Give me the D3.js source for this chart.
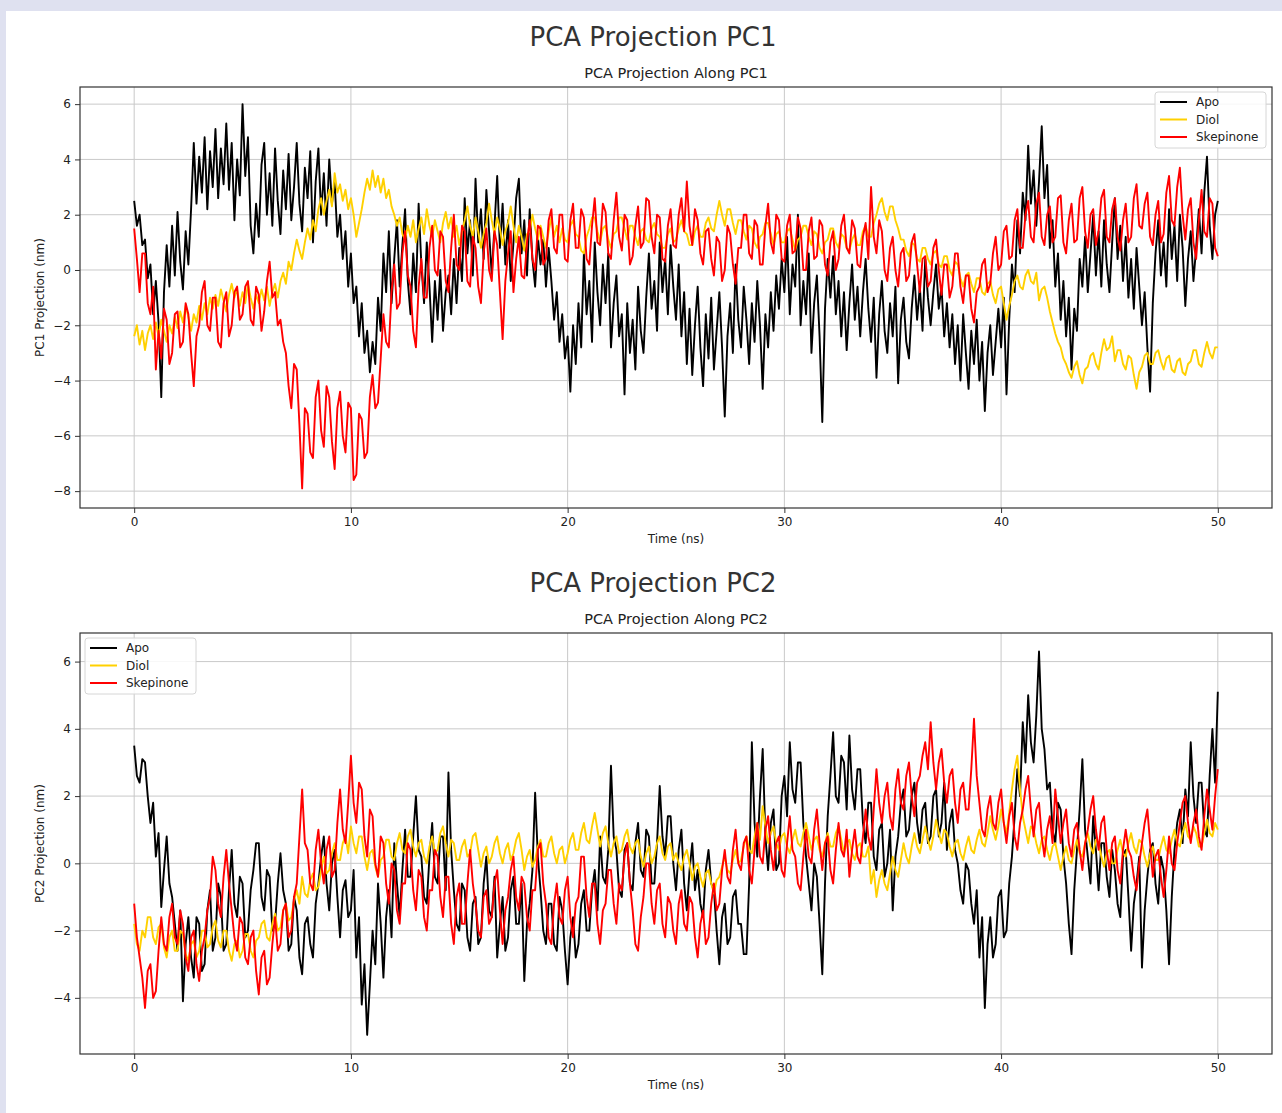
<!DOCTYPE html>
<html>
<head>
<meta charset="utf-8">
<script src="https://cdn.jsdelivr.net/npm/d3@7"></script>
<style>
  body { margin: 0; background: #dfe1f0; }
  svg { display: block; }
  text { font-family: "DejaVu Sans", sans-serif; fill: #222; }
</style>
</head>
<body>
<div id="chart"></div>
<script>
// every trace covers 0..50 ns, stored every 0.125 ns
let timeSpan = 50;

let seriesNames = ["Apo", "Diol", "Skepinone"];
let seriesColors = ["#000000", "#ffd000", "#ff0000"];

let xTicks = [0, 10, 20, 30, 40, 50];
let pc1Ticks = [-8, -6, -4, -2, 0, 2, 4, 6];
let pc2Ticks = [-4, -2, 0, 2, 4, 6];

// ---- PC1 ----
let pc1Apo = [
 2.5, 1.6, 2.0, 0.9, 1.1, -0.3, 0.2, -1.6, -0.4, -1.9, -4.6, -0.8, 0.9, -0.6, 1.6, -0.2, 2.1, 0.3, -0.7, 1.4, 0.2, 2.2, 4.6, 2.4, 4.1, 2.8, 4.8, 2.2, 4.3, 3.0, 5.1, 2.6, 4.4, 3.1, 5.3, 2.9, 4.6, 1.8, 4.0, 2.7,
 6.0, 3.4, 4.8, 1.6, 0.6, 2.4, 1.2, 3.8, 4.6, 2.0, 3.5, 1.6, 4.4, 2.5, 1.3, 3.6, 2.2, 4.2, 1.8, 3.0, 4.6, 2.4, 1.4, 3.7, 2.6, 4.3, 1.0, 3.2, 4.4, 2.0, 3.5, 1.6, 4.0, 2.4, 3.2, 1.2, 2.0, 0.4, 1.4, -0.6,
 0.6, -1.2, -0.6, -2.4, -1.2, -3.0, -2.2, -3.7, -2.6, -3.4, -1.0, -2.2, 0.6, -0.8, 1.4, -1.2, 0.4, 1.8, -0.6, 0.9, 2.2, -0.4, -1.6, 0.6, -0.8, 2.4, 0.2, -1.2, 1.0, -0.6, -2.6, -0.4, -1.8, 0.0, -2.2, -0.8, -0.2, -1.6, 0.4, -1.2,
 0.8, -0.4, 2.6, 0.6, 1.8, -0.2, 3.3, 1.0, 2.2, 0.4, 2.9, 1.4, -0.2, 1.6, 3.4, 0.8, 2.4, 0.2, 1.8, -0.4, 1.0, 2.6, 3.3, 0.6, 1.8, -0.2, 2.2, 0.4, -0.6, 1.2, 0.2, 1.1, -0.6, 0.8, -0.4, -1.8, -0.8, -2.6, -1.6, -3.2,
 -2.4, -4.4, -2.0, -3.4, -1.2, -2.8, 0.6, -1.6, -0.4, -2.6, 1.0, -0.8, -2.0, 0.2, -1.2, 0.6, -2.8, -1.2, -0.2, -2.4, -1.6, -4.5, -1.2, -3.0, -1.8, -3.6, -0.6, -2.2, -3.0, -1.0, 0.6, -1.4, -0.4, -2.2, 1.0, -0.8, 0.4, -1.6, 0.9, -0.6,
 -1.8, 0.2, -2.4, -0.8, -3.4, -1.4, -3.8, -2.0, -0.6, -2.8, -4.2, -1.6, -3.2, -1.0, -3.6, -2.2, -0.8, -2.8, -5.3, -2.4, -1.2, -3.0, 0.2, -1.8, -2.8, -0.6, -1.8, -3.4, -1.2, -2.6, -0.4, -2.0, -4.3, -1.6, -2.8, -0.8, -2.2, -0.2, -1.4, 0.4,
 -0.8, 1.2, -1.6, 0.2, -0.6, 2.0, -2.0, -0.4, -1.6, 0.6, -3.0, -1.2, -0.2, -2.4, -5.5, -1.4, 0.4, -1.0, 0.5, -1.6, -0.4, -2.4, -0.8, -2.9, -1.2, 0.2, -1.8, -0.6, -2.4, -0.8, 0.4, -1.4, -2.6, -1.0, -3.9, -1.6, -0.4, -2.2, -3.0, -1.2,
 -2.4, -0.6, -4.1, -1.8, -1.0, -2.6, -3.2, -1.4, -0.2, -1.8, -0.6, -2.2, 0.4, -1.0, -2.0, -0.8, 0.2, -1.4, -0.6, -2.4, -1.2, -2.8, -1.6, -3.4, -2.0, -4.0, -1.6, -3.0, -4.3, -2.2, -3.4, -1.8, -4.0, -2.6, -5.1, -3.0, -2.0, -3.8, -2.6, -1.4,
 -2.8, -1.0, -4.5, -1.8, 0.2, -0.8, 1.8, 0.6, 2.8, 1.8, 4.5, 2.4, 3.6, 1.6, 3.2, 5.2, 2.6, 3.8, 0.8, 1.8, -0.6, 0.6, -1.8, -0.4, -2.4, -1.0, -3.6, -1.4, -2.2, 0.4, -0.6, 1.2, -0.8, 0.6, 2.0, -0.2, 1.4, -0.6, 1.8, 0.2,
 -0.8, 1.0, 2.6, 0.4, 1.6, -0.4, 1.2, -1.0, 0.4, -1.4, 0.8, -0.6, -2.0, -0.8, -2.8, -4.4, -1.2, 0.6, 1.8, -0.2, 1.0, -0.6, 2.2, 0.4, 1.6, -0.4, 2.0, 0.8, -1.3, 0.4, 1.4, -0.4, 0.8, 2.2, 0.6, 2.8, 4.1, 1.6, 0.4, 2.0,
 2.5
];
let pc1Diol = [
 -2.4, -2.0, -2.7, -2.2, -2.9, -2.3, -2.0, -2.5, -1.9, -2.4, -1.8, -2.2, -2.6, -2.0, -2.3, -1.7, -2.1, -1.5, -1.9, -1.3, -1.7, -2.2, -1.6, -1.9, -1.3, -1.8, -1.2, -1.6, -1.0, -1.4, -0.9, -1.3, -0.7, -1.1, -1.5, -0.9, -0.5, -1.0, -0.7, -1.3,
 -0.8, -1.2, -0.5, -1.0, -1.4, -0.9, -1.2, -0.7, -1.1, -0.6, -1.3, -0.8, -0.5, -1.0, -0.4, -0.1, -0.5, 0.3, 0.0, 0.6, 1.1, 0.7, 0.4, 1.0, 1.5, 1.1, 1.8, 1.4, 2.2, 2.6, 2.0, 2.5, 2.9, 2.3, 3.5, 2.8, 3.1, 2.5, 2.9, 2.2,
 2.6, 2.0, 1.2, 1.7, 2.2, 2.8, 3.3, 2.9, 3.6, 3.0, 3.4, 2.8, 3.3, 2.6, 2.9, 2.3, 2.0, 1.6, 1.9, 1.3, 1.1, 1.6, 1.2, 1.8, 1.0, 1.5, 1.9, 1.3, 2.2, 1.6, 1.2, 1.8, 1.4, 1.0, 1.7, 2.1, 1.5, 1.9, 1.2, 1.6,
 0.9, 1.4, 1.8, 2.3, 1.6, 1.2, 1.9, 1.4, 0.8, 1.3, 1.7, 2.4, 1.8, 1.3, 1.9, 1.5, 0.9, 1.4, 1.7, 2.3, 1.6, 1.0, 1.6, 1.2, 0.7, 1.3, 1.4, 2.0, 1.5, 1.1, 1.6, 1.2, 0.8, 1.4, 1.9, 1.2, 1.6, 1.0, 1.5, 1.1,
 1.0, 1.6, 1.8, 1.3, 1.2, 0.7, 0.6, 1.2, 1.5, 1.9, 1.9, 1.4, 1.0, 1.5, 1.6, 1.1, 0.8, 1.3, 1.4, 1.9, 1.9, 1.5, 1.1, 1.6, 1.6, 1.2, 0.9, 1.4, 1.5, 1.1, 1.0, 1.5, 1.7, 1.3, 1.2, 0.8, 0.8, 1.3, 1.5, 1.0,
 1.1, 1.5, 1.8, 1.4, 1.3, 0.9, 0.9, 1.4, 1.6, 1.2, 1.2, 1.7, 1.9, 1.5, 1.4, 2.0, 2.5, 2.0, 1.6, 2.2, 2.2, 1.7, 1.3, 1.8, 1.8, 1.4, 1.1, 1.6, 1.5, 1.0, 0.8, 1.2, 1.3, 1.7, 1.7, 1.3, 0.9, 1.3, 1.4, 1.0,
 1.0, 1.4, 1.5, 1.1, 0.7, 1.1, 1.2, 1.6, 1.6, 1.2, 0.9, 1.4, 1.3, 0.8, 0.6, 1.0, 1.1, 1.5, 1.5, 1.0, 0.8, 1.3, 1.2, 0.8, 0.7, 1.1, 1.3, 0.9, 0.9, 1.4, 1.6, 1.2, 1.2, 1.7, 2.0, 2.4, 2.6, 2.1, 1.8, 2.3,
 2.3, 1.8, 1.5, 1.1, 1.1, 0.7, 0.5, 1.0, 0.9, 0.4, 0.3, 0.8, 0.8, 0.4, 0.2, 0.6, 0.7, 0.2, 0.1, 0.5, 0.5, 0.0, -0.2, 0.3, 0.2, -0.3, -0.6, -0.2, -0.1, -0.5, -0.8, -0.3, -0.3, -0.8, -0.9, -0.5, -0.4, -0.9, -1.2, -0.7,
 -0.6, -1.2, -1.8, -1.3, -0.9, -0.4, -0.2, -0.6, -0.7, -0.2, 0.0, -0.4, -0.5, -0.1, -1.1, -0.7, -0.6, -1.0, -1.5, -1.9, -2.3, -2.6, -2.8, -3.2, -3.4, -3.7, -3.9, -3.5, -3.3, -3.8, -4.1, -3.6, -3.5, -3.1, -3.0, -3.4, -3.6, -3.0, -2.5, -2.9,
 -2.8, -2.4, -3.3, -2.9, -2.9, -3.4, -3.6, -3.1, -3.2, -3.8, -4.3, -3.7, -3.5, -3.1, -3.0, -3.4, -3.4, -3.0, -2.9, -3.3, -3.6, -3.2, -3.1, -3.6, -3.7, -3.3, -3.2, -3.7, -3.8, -3.4, -3.3, -2.9, -2.9, -3.4, -3.5, -3.0, -2.6, -3.0, -3.2, -2.8,
 -2.8
];
let pc1Skepinone = [
 1.5, 0.4, -0.8, 0.6, 0.6, -1.2, -1.6, -0.6, -3.6, -2.2, -3.2, -1.4, -1.8, -3.4, -3.0, -1.6, -1.5, -2.8, -2.6, -1.2, -1.6, -3.0, -4.2, -2.4, -2.0, -0.8, -0.4, -2.0, -2.2, -1.0, -1.0, -2.6, -2.8, -1.2, -0.8, -2.4, -2.0, -0.8, -0.6, -1.8,
 -1.6, -0.6, -0.4, -1.8, -2.0, -0.6, -0.9, -2.2, -1.5, -0.4, 0.3, -1.0, -0.8, -2.0, -1.8, -2.6, -3.0, -4.2, -5.0, -3.4, -3.6, -5.6, -7.9, -5.0, -5.2, -6.6, -6.8, -4.6, -4.0, -5.8, -6.4, -4.2, -4.6, -6.2, -7.2, -5.0, -4.4, -6.0, -6.6, -4.8,
 -5.0, -7.6, -7.4, -5.2, -5.4, -6.8, -6.6, -4.6, -3.8, -5.0, -4.8, -3.2, -1.6, -2.6, -2.8, -0.8, 0.2, -1.4, -1.2, 0.6, 1.4, -0.2, -0.6, -2.2, -2.8, -0.6, 0.4, -1.0, -1.0, 0.8, 1.6, 0.0, -0.2, 1.4, 1.2, -0.4, -0.8, 0.8, 2.0, 0.2,
 0.0, 1.6, 1.4, -0.4, -0.6, 1.2, 0.8, -0.6, -1.2, 0.6, 1.5, 0.0, -0.4, 1.4, 0.9, -0.8, -2.5, -0.4, 0.6, 1.4, -0.8, 0.4, 1.2, -0.2, -0.3, 1.0, 1.8, 0.4, 0.0, 1.6, 1.5, 0.2, 0.4, 1.8, 2.2, 0.8, 0.6, 2.0, 2.0, 0.4,
 0.3, 1.8, 2.4, 0.8, 0.8, 2.2, 1.9, 0.4, 0.2, 1.6, 2.6, 1.0, 0.9, 2.4, 2.1, 0.6, 0.4, 1.8, 2.8, 1.2, 0.7, 2.0, 1.8, 0.2, 0.5, 1.6, 2.3, 0.8, 1.0, 2.6, 2.5, 1.2, 0.6, 2.0, 1.9, 0.4, 0.3, 1.6, 2.2, 0.9,
 0.8, 2.0, 2.6, 1.4, 3.2, 1.6, 0.9, 2.2, 1.8, 0.6, 0.2, 1.4, 1.5, 0.4, -0.2, 1.2, 1.0, -0.4, 0.0, 1.6, 1.3, 0.2, -0.5, 0.8, 0.8, 2.0, 2.0, 0.6, 0.4, 1.8, 1.6, 0.2, 0.2, 1.6, 2.4, 1.0, 0.6, 2.0, 1.8, 0.4,
 0.3, 1.6, 2.0, 0.6, 0.7, 1.9, 1.5, 0.0, 0.0, 1.4, 1.9, 0.4, 0.5, 1.8, 1.6, 0.2, -0.2, 1.0, 1.4, 0.0, 0.4, 1.6, 2.0, 0.8, 0.6, 1.8, 1.5, 0.2, 0.1, 1.2, 1.7, 0.4, 3.0, 1.2, 0.6, 1.8, 1.4, 0.0, -0.4, 0.8,
 1.2, 0.0, -0.6, 0.6, 0.8, -0.4, -0.2, 1.0, 1.3, 0.2, -0.8, 0.4, 0.5, -0.6, -0.4, 0.8, 1.1, 0.0, -0.9, 0.2, 0.2, -1.0, -0.6, 0.6, 0.6, -0.6, -1.2, -0.2, -0.2, -1.4, -1.9, -0.8, -0.6, 0.2, 0.4, -0.8, -0.5, 0.6, 1.2, 0.0,
 0.2, 1.4, 1.6, 0.4, 0.5, 1.8, 2.2, 0.8, 0.8, 2.0, 2.5, 1.2, 1.0, 2.4, 2.8, 1.2, 0.9, 2.0, 2.3, 1.0, 1.2, 2.6, 2.7, 1.0, 0.6, 1.8, 2.4, 1.0, 1.1, 2.6, 3.0, 1.4, 0.8, 2.0, 2.2, 0.9, 1.4, 2.6, 2.9, 1.2,
 1.0, 2.2, 2.6, 1.2, 0.7, 1.8, 2.4, 1.0, 1.2, 2.6, 3.1, 1.6, 1.5, 2.4, 2.8, 1.2, 0.9, 2.0, 2.5, 1.0, 1.3, 2.8, 3.4, 1.8, 1.6, 3.0, 3.7, 2.0, 1.1, 2.2, 2.6, 1.0, 0.4, 1.8, 2.9, 1.4, 1.2, 2.6, 2.4, 0.8,
 0.5
];

// ---- PC2 ----
let pc2Apo = [
 3.5, 2.6, 2.4, 3.1, 3.0, 2.0, 1.2, 1.8, 0.2, 0.9, -1.3, -0.2, 0.8, -0.6, -1.0, -1.8, -2.6, -1.4, -4.1, -2.4, -1.6, -2.8, -3.4, -1.6, -1.8, -3.2, -3.0, -1.4, -0.8, -2.6, -2.2, -0.6, -1.0, -2.6, -2.4, -0.8, 0.4, -1.2, -1.6, -0.4,
 -0.6, -2.2, -2.0, -0.8, -0.2, 0.6, 0.6, -1.0, -1.4, -0.2, -0.4, -2.0, -1.8, -0.6, 0.3, -0.8, -1.2, -2.6, -2.4, -1.0, -1.4, -2.8, -3.3, -1.8, -1.6, -2.4, -2.8, -1.2, -0.6, 0.2, 0.8, -0.6, -1.4, 0.0, 0.4, -1.0, -2.2, -0.8, -0.5, -1.6,
 -1.4, -0.2, -2.8, -1.6, -4.2, -3.0, -5.1, -3.6, -2.0, -3.0, -0.6, -1.8, -3.4, -1.6, -0.8, -2.2, 0.6, -0.6, -1.6, -0.2, 1.0, -0.4, -0.4, 0.8, 2.0, 0.4, 0.2, -1.0, -1.2, 0.2, 1.2, -0.4, -0.6, 0.8, 0.8, -0.8, 2.7, 0.4, -0.8, -1.8,
 -2.0, -0.6, -0.8, -2.2, -2.6, -1.2, -1.0, -2.4, -2.2, -0.6, 0.2, -1.4, -1.6, -0.4, -2.8, -1.8, -1.0, -2.6, -2.2, -0.8, -0.4, -1.8, -1.8, -0.6, -3.5, -1.8, -1.2, -0.2, 2.1, 0.2, -0.8, -2.0, -2.4, -1.2, -1.2, -2.4, -2.6, -1.0, -1.4, -2.6,
 -3.6, -2.2, -1.6, -2.8, -2.4, -1.2, -0.8, -2.0, -2.0, -0.8, -0.2, -1.4, 0.8, -0.4, -0.6, 0.4, 2.9, 0.8, 0.4, -0.8, -1.0, 0.4, 0.6, -0.6, -0.8, 0.6, 1.2, -0.2, -0.4, 1.0, 0.8, -0.6, -0.6, 0.6, 2.3, 0.8, 0.2, 1.4, 1.4, 0.0,
 -0.8, 0.4, 1.0, -0.6, -1.4, -0.2, 0.6, -0.8, -0.2, -1.2, -1.6, -0.2, 0.4, -0.6, -0.8, -2.0, -3.0, -1.6, -1.2, -2.4, -2.2, -1.0, -0.8, -1.8, -1.8, -2.7, -2.7, -0.6, 3.6, 1.2, 0.2, 2.0, 3.4, 0.8, -0.2, 1.2, 1.6, -0.2, 0.0, 2.0,
 2.6, 1.4, 3.6, 2.2, 1.8, 3.0, 3.0, 1.2, 0.2, -0.6, -1.4, 0.0, -0.4, -1.8, -3.3, -0.6, 1.4, 2.6, 3.9, 2.0, 1.8, 3.2, 3.0, 1.6, 3.8, 2.2, 1.6, 2.8, 2.8, 1.2, 0.6, 1.8, 1.8, 0.2, -0.2, 1.0, 1.2, -0.4, 0.0, 1.0,
 -1.4, 0.2, 0.8, 1.8, 2.2, 0.8, 1.0, 2.0, 2.4, 1.2, 0.6, 1.6, 1.8, 0.6, 0.8, 2.0, 2.2, 0.8, 1.2, 2.4, 0.4, 1.2, 1.6, 0.4, 0.0, -0.8, -1.2, 0.0, -0.2, -1.2, -1.8, -0.8, -2.8, -1.6, -4.3, -2.4, -1.6, -2.8, -2.4, -1.0,
 -0.8, -2.2, -2.0, -0.6, 0.2, 1.4, 2.8, 2.0, 4.2, 3.0, 5.0, 3.6, 3.0, 4.4, 6.3, 4.0, 3.4, 2.2, 2.4, 1.0, 0.6, 1.8, 1.6, 0.2, -0.6, -1.8, -2.7, -0.8, 0.4, 1.6, 3.1, 1.0, 0.2, -0.6, 1.4, 0.4, -0.8, 0.6, 0.6, -0.4,
 -1.0, 0.4, -0.2, -1.2, -1.6, 0.2, 0.4, -1.0, -2.6, -1.2, -0.6, 0.2, -3.1, -1.4, -0.4, 0.4, 0.6, -0.6, -1.2, 0.2, -0.2, -1.4, -3.0, -1.0, 0.4, 1.2, 1.6, 0.6, 2.2, 1.4, 3.6, 2.0, 1.2, 2.4, 2.4, 1.0, 0.8, 2.6, 4.0, 2.4,
 5.1
];
let pc2Diol = [
 -1.8, -2.4, -2.6, -2.0, -2.2, -1.6, -1.6, -2.2, -2.4, -1.9, -1.8, -2.5, -2.8, -2.2, -2.0, -2.6, -2.6, -2.0, -2.1, -2.7, -2.9, -2.4, -2.3, -2.8, -2.6, -2.0, -2.0, -2.5, -2.4, -1.9, -1.7, -2.3, -2.5, -2.0, -2.0, -2.6, -2.9, -2.4, -2.3, -2.8,
 -2.6, -2.1, -2.1, -2.6, -2.8, -2.3, -2.2, -1.8, -1.7, -2.2, -2.3, -1.8, -1.5, -2.0, -1.9, -1.4, -1.2, -1.7, -1.6, -1.1, -0.8, -1.2, -0.4, -0.9, -1.0, -0.5, -0.3, -0.8, -0.7, -0.2, 0.2, -0.3, -0.2, 0.3, 0.6, 0.1, 0.1, 0.6, 0.8, 0.3,
 1.1, 0.6, 0.3, 0.8, 0.8, 0.2, -0.2, 0.3, 0.4, -0.1, -0.4, 0.1, 0.2, 0.7, 0.7, 0.2, 0.1, 0.6, 0.9, 0.4, 0.3, 0.8, 1.0, 0.5, 0.2, 0.6, 0.7, 0.2, 0.0, 0.5, 0.8, 0.3, 0.4, 0.9, 1.1, 0.6, 0.2, 0.7, 0.6, 0.1,
 0.1, 0.5, 0.7, 0.2, 0.3, 0.8, 0.9, 0.4, -0.1, 0.3, 0.5, 0.0, 0.2, 0.6, 0.8, 0.3, 0.0, 0.4, 0.6, 0.1, 0.3, 0.7, 0.9, 0.4, -0.2, 0.2, 0.4, -0.1, 0.1, 0.5, 0.7, 0.2, 0.2, 0.6, 0.8, 0.3, 0.0, 0.4, 0.5, 0.0,
 0.3, 0.7, 0.9, 0.4, 0.4, 0.9, 1.2, 0.7, 0.6, 1.1, 1.5, 1.0, 0.5, 0.9, 1.1, 0.6, 0.2, 0.6, 0.8, 0.3, 0.4, 0.8, 1.0, 0.5, 0.3, 0.6, 0.7, 0.2, -0.1, 0.3, 0.5, 0.0, 0.2, 0.6, 0.8, 0.3, 0.1, 0.5, 0.6, 0.1,
 0.3, 0.0, -0.2, 0.2, 0.4, 0.0, -0.5, -0.1, 0.0, -0.4, -0.7, -0.3, -0.2, -0.6, -0.9, -0.5, -0.4, -0.1, 0.2, -0.2, -0.3, 0.1, 0.4, 0.0, 0.1, 0.5, 0.8, 0.4, 0.3, 0.8, 1.2, 0.7, 1.7, 1.1, 0.6, 0.9, 1.1, 0.6, 0.4, 0.8,
 0.9, 0.5, 0.3, 0.7, 1.0, 0.6, 0.5, 0.9, 1.2, 0.8, 0.4, 0.7, 0.8, 0.4, 0.2, 0.6, 0.9, 0.5, 0.5, 0.9, 1.1, 0.7, 0.3, 0.6, 0.7, 0.3, 0.1, 0.5, 0.6, 0.2, 0.2, 0.5, -0.6, -0.2, -1.0, -0.5, -0.2, -0.6, -0.8, -0.3,
 0.2, -0.2, -0.4, 0.1, 0.6, 0.2, 0.0, 0.5, 0.9, 0.5, 0.3, 0.7, 1.1, 0.7, 0.4, 0.8, 1.3, 0.9, 0.6, 1.0, 0.9, 0.5, 0.2, 0.6, 0.7, 0.3, 0.1, 0.5, 0.8, 0.4, 0.3, 0.7, 1.0, 0.6, 0.5, 0.9, 1.4, 1.0, 0.7, 1.1,
 1.6, 1.2, 0.9, 1.5, 2.2, 2.8, 3.2, 2.2, 1.4, 1.0, 0.6, 1.1, 1.0, 0.6, 0.3, 0.7, 0.8, 0.4, 0.1, 0.5, 0.6, 0.2, -0.2, 0.2, 0.5, 0.1, 0.0, 0.4, 0.7, 0.3, 0.2, 0.6, 0.9, 0.5, 0.3, 0.7, 0.6, 0.2, -0.1, 0.3,
 0.4, 0.0, 0.0, 0.4, 0.7, 0.3, 0.2, 0.6, 0.9, 0.5, 0.3, 0.7, 0.6, 0.2, -0.1, 0.3, 0.5, 0.1, 0.1, 0.5, 0.8, 0.4, 0.3, 0.7, 1.0, 0.6, 0.5, 0.9, 1.2, 0.8, 0.7, 1.1, 0.9, 0.5, 0.5, 0.9, 1.3, 0.9, 0.8, 1.2,
 1.0
];
let pc2Skepinone = [
 -1.2, -2.2, -2.8, -3.4, -4.3, -3.2, -3.0, -4.0, -3.8, -2.6, -1.6, -2.4, -2.6, -1.6, -1.2, -2.2, -2.4, -1.4, -1.8, -2.8, -3.2, -2.2, -2.0, -3.0, -3.5, -2.6, -2.2, -1.4, -1.0, 0.2, -0.2, -1.2, -1.6, -0.4, 0.4, -0.6, -1.4, -2.2, -2.6, -1.6,
 -1.8, -2.8, -3.0, -2.2, -2.0, -3.2, -3.9, -2.8, -2.6, -3.6, -3.4, -2.4, -1.6, -2.6, -2.4, -1.4, -1.2, -2.2, -2.0, -1.0, -0.6, 0.8, 2.2, 0.6, 0.4, -0.6, -0.8, 0.4, 1.0, 0.0, -0.6, 0.4, 0.8, -0.4, -0.2, 1.2, 2.2, 1.0, 0.6, 1.8,
 3.2, 1.8, 1.2, 2.4, 2.2, 0.8, 0.2, 1.6, 1.4, 0.0, -0.4, 0.8, 0.6, -0.6, -1.2, 0.0, -0.2, -1.4, -1.8, -0.6, -0.6, 0.6, 0.4, -0.8, -1.4, -0.2, -0.4, -1.6, -2.0, -0.8, -0.8, 0.4, 0.2, -1.0, -1.6, -0.4, -0.4, -1.8, -2.4, -1.0,
 -0.6, -1.8, -1.8, -0.6, 0.4, -0.6, -1.2, -2.0, -2.2, -1.0, -0.8, -1.8, -1.6, -0.6, -0.2, -1.4, -2.4, -1.4, -1.0, -0.2, 0.2, -1.0, -1.4, -0.4, -0.6, -1.6, -2.0, -0.8, -0.8, 0.4, 0.6, -0.6, -1.2, -2.2, -2.4, -1.2, -0.6, -1.6, -1.8, -0.8,
 -0.4, -1.6, -2.2, -1.2, -1.0, 0.2, 0.2, -1.0, -1.6, -0.6, -0.6, -1.8, -2.4, -1.4, -1.2, -0.2, -0.2, -1.2, -1.8, -0.6, -0.8, 0.2, 0.6, -0.6, -1.4, -2.4, -2.6, -1.6, -1.0, 0.0, 0.0, -1.2, -1.8, -0.8, -0.6, -1.8, -2.2, -1.0, -1.2, -2.0,
 -2.4, -1.2, -0.8, -1.8, -2.0, -1.0, -1.2, -2.2, -2.8, -1.8, -1.4, -2.4, -2.2, -1.2, -0.6, -1.4, -1.2, -0.2, 0.4, -0.4, -0.6, 0.4, 1.0, 0.0, -0.2, 0.6, 0.8, -0.2, -0.6, 0.4, 1.2, 0.2, 0.0, 1.0, 1.4, 0.4, -0.2, 0.6, 0.8, -0.2,
 -0.4, 0.6, 1.4, 0.4, 0.2, -0.6, -0.8, 0.2, 1.0, 0.2, 0.0, 1.0, 1.6, 0.6, -0.2, 0.6, 0.8, -0.2, -0.6, 0.4, 1.2, 0.4, 0.2, 1.0, -0.4, 0.4, 1.0, 0.2, 0.0, 0.8, 1.6, 0.8, 0.4, 1.6, 2.8, 1.8, 1.2, 2.0, 2.4, 1.4,
 1.0, 2.2, 2.8, 1.8, 1.6, 2.6, 3.0, 2.0, 1.4, 2.4, 2.6, 3.2, 3.6, 2.8, 4.2, 3.0, 2.2, 3.0, 3.4, 2.4, 1.8, 2.6, 2.8, 1.8, 1.2, 2.2, 2.4, 1.6, 1.6, 2.8, 4.3, 2.6, 1.8, 1.0, 0.8, 1.6, 2.0, 1.2, 1.0, 1.8,
 2.2, 1.2, 0.6, 1.4, 1.8, 0.8, 0.4, 1.2, 1.6, 2.2, 2.6, 1.6, 0.8, 1.6, 1.8, 0.8, 0.2, 1.0, 1.4, 0.6, 2.2, 1.4, 0.6, 1.2, 1.6, 0.6, 0.2, 1.0, 1.2, 0.4, -0.2, 0.6, 1.0, 1.6, 2.0, 1.0, 0.4, 1.2, 1.4, 0.4,
 -0.2, 0.6, 0.8, -0.2, -0.6, 0.4, 1.0, 0.4, 0.2, -0.4, -0.8, 0.0, 0.6, 1.2, 1.6, 0.6, -0.4, 0.2, 0.4, -0.4, -1.0, -0.2, 0.8, 0.0, -0.2, 0.6, 1.2, 1.8, 2.0, 1.2, 0.6, 1.2, 1.6, 0.8, 0.4, 1.4, 2.2, 1.6, 1.0, 2.0,
 2.8
];

let width = 1282;
let height = 1113;

let svg = d3.select("#chart").append("svg")
    .attr("width", width)
    .attr("height", height);

// lavender frame + white card
svg.append("rect").attr("x", 0).attr("y", 0).attr("width", width).attr("height", height).attr("fill", "#dfe1f0");
svg.append("rect").attr("x", 6).attr("y", 11).attr("width", width - 6).attr("height", height - 11).attr("fill", "#ffffff");

let minus = d => (d < 0 ? "\u2212" + Math.abs(d) : "" + d);

function drawPanel(cfg) {
    let left = 80, right = 1272;
    let xScale = d3.scaleLinear().domain([-2.5, 52.5]).range([left, right]);
    let yScale = d3.scaleLinear().domain(cfg.yDomain).range([cfg.bottom, cfg.top]);

    // big title and subtitle
    svg.append("text")
        .attr("x", 653).attr("y", cfg.top - 41)
        .attr("text-anchor", "middle")
        .style("font-size", "26px")
        .style("fill", "#333")
        .text(cfg.title);
    svg.append("text")
        .attr("x", (left + right) / 2).attr("y", cfg.top - 9)
        .attr("text-anchor", "middle")
        .style("font-size", "14.5px")
        .text(cfg.subtitle);

    // grid
    let g = svg.append("g");
    g.selectAll(".vgrid").data(xTicks).enter().append("line")
        .attr("x1", d => xScale(d)).attr("x2", d => xScale(d))
        .attr("y1", cfg.top).attr("y2", cfg.bottom)
        .attr("stroke", "#c9c9c9").attr("stroke-width", 1);
    g.selectAll(".hgrid").data(cfg.yTicks).enter().append("line")
        .attr("x1", left).attr("x2", right)
        .attr("y1", d => yScale(d)).attr("y2", d => yScale(d))
        .attr("stroke", "#c9c9c9").attr("stroke-width", 1);

    // traces
    let clipId = "clip" + cfg.id;
    svg.append("clipPath").attr("id", clipId).append("rect")
        .attr("x", left).attr("y", cfg.top).attr("width", right - left).attr("height", cfg.bottom - cfg.top);

    let lines = svg.append("g").attr("clip-path", "url(#" + clipId + ")");
    cfg.series.forEach((s, k) => {
        let step = timeSpan / (s.length - 1);
        let line = d3.line()
            .x((d, i) => xScale(i * step))
            .y(d => yScale(d));
        lines.append("path")
            .datum(s)
            .attr("d", line)
            .attr("fill", "none")
            .attr("stroke", seriesColors[k])
            .attr("stroke-width", 1.9)
            .attr("stroke-linejoin", "round");
    });

    // axes
    let xAxis = d3.axisBottom(xScale).tickValues(xTicks).tickSize(5).tickPadding(4);
    let xAxisGroup = svg.append("g").attr("transform", "translate(0," + cfg.bottom + ")").call(xAxis);
    let yAxis = d3.axisLeft(yScale).tickValues(cfg.yTicks).tickSize(5).tickPadding(4).tickFormat(minus);
    let yAxisGroup = svg.append("g").attr("transform", "translate(" + left + ",0)").call(yAxis);
    [xAxisGroup, yAxisGroup].forEach(a => {
        a.select(".domain").remove();
        a.selectAll("line").attr("stroke", "#333");
        a.selectAll("text").style("font-size", "12px").style("font-family", "DejaVu Sans").attr("fill", "#222");
    });

    // frame
    svg.append("rect")
        .attr("x", left).attr("y", cfg.top)
        .attr("width", right - left).attr("height", cfg.bottom - cfg.top)
        .attr("fill", "none").attr("stroke", "#333").attr("stroke-width", 1.2);

    // axis labels
    svg.append("text")
        .attr("x", (left + right) / 2).attr("y", cfg.bottom + 35)
        .attr("text-anchor", "middle")
        .style("font-size", "12px")
        .text("Time (ns)");
    svg.append("text")
        .attr("transform", "translate(44," + (cfg.top + cfg.bottom) / 2 + ") rotate(-90)")
        .attr("text-anchor", "middle")
        .style("font-size", "12px")
        .text(cfg.yLabel);

    // legend
    let lg = svg.append("g").attr("transform", "translate(" + cfg.legendX + "," + cfg.legendY + ")");
    lg.append("rect")
        .attr("width", 111).attr("height", 56).attr("rx", 3)
        .attr("fill", "#ffffff").attr("fill-opacity", 0.85)
        .attr("stroke", "#d6d6d6");
    seriesNames.forEach((name, k) => {
        let yy = 10 + k * 17.5;
        lg.append("line")
            .attr("x1", 5).attr("x2", 32).attr("y1", yy).attr("y2", yy)
            .attr("stroke", seriesColors[k]).attr("stroke-width", 2);
        lg.append("text")
            .attr("x", 41).attr("y", yy + 4)
            .style("font-size", "12px")
            .text(name);
    });
}

drawPanel({
    id: 1, top: 87, bottom: 508, yDomain: [-8.61, 6.62], yTicks: pc1Ticks,
    title: "PCA Projection PC1", subtitle: "PCA Projection Along PC1", yLabel: "PC1 Projection (nm)",
    series: [pc1Apo, pc1Diol, pc1Skepinone], legendX: 1155, legendY: 92
});

drawPanel({
    id: 2, top: 633, bottom: 1054, yDomain: [-5.67, 6.85], yTicks: pc2Ticks,
    title: "PCA Projection PC2", subtitle: "PCA Projection Along PC2", yLabel: "PC2 Projection (nm)",
    series: [pc2Apo, pc2Diol, pc2Skepinone], legendX: 85, legendY: 638
});
</script>
</body>
</html>
